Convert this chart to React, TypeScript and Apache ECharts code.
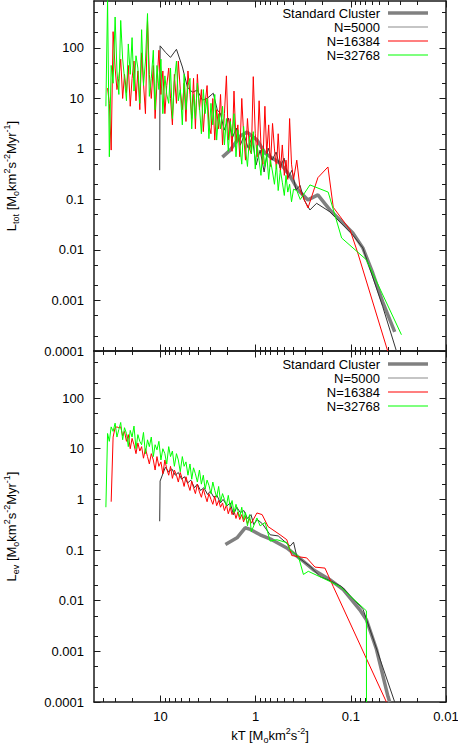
import React, { useEffect, useRef } from 'react';
import * as echarts from 'echarts';

// ---------- axis ranges and tick labels ----------
const kTRange = [0.01, 50];
const lumRange = [0.0001, 850];
const xTickLabels = ['10', '1', '0.1', '0.01'];
const yTickLabels = ['100', '10', '1', '0.1', '0.01', '0.001', '0.0001'];
const seriesNames = ['Standard Cluster', 'N=5000', 'N=16384', 'N=32768'];

// ---------- temperature bins (kT) of the noisy curves ----------
const kTBins = [
  37.5, 36, 34.5, 33, 31.5, 30, 28.7, 27.4, 26.2, 25,
  23.9, 22.8, 21.8, 20.8, 19.9, 19, 18.1, 17.3, 16.5, 15.8,
  15.1, 14.4, 13.7, 13.1, 12.5, 11.9, 11.4, 10.9, 10.4, 9.9,
  9.45, 9.0, 8.6, 8.2, 7.85, 7.5, 7.15, 6.8, 6.5, 6.2,
  5.9, 5.65, 5.4, 5.15, 4.9, 4.7, 4.5, 4.3, 4.1, 3.9,
  3.72, 3.55, 3.4, 3.24, 3.1, 2.95, 2.82, 2.69, 2.57, 2.45,
  2.34, 2.23, 2.13, 2.03, 1.94, 1.85, 1.77, 1.69, 1.61, 1.54,
  1.47, 1.4, 1.34, 1.28, 1.22, 1.16, 1.11, 1.06, 1.01, 0.965,
  0.92, 0.88, 0.84, 0.8, 0.765, 0.73, 0.7, 0.665, 0.635, 0.605,
  0.58, 0.55, 0.525, 0.5, 0.48, 0.46, 0.44, 0.42, 0.4,
];

// ---------- upper panel: L_tot ----------
const totGreen = [
  7, 900, 0.7, 45, 20, 410, 35, 12, 350, 60,
  25, 9, 120, 30, 160, 14, 70, 40, 8, 230,
  18, 55, 480, 11, 25, 90, 6, 45, 15, 60,
  5, 28, 12, 8, 40, 4, 22, 55, 9, 15,
  3, 30, 6, 18, 25, 2.5, 12, 4, 20, 7,
  2, 15, 5, 10, 1.6, 8, 3, 12, 1.5, 5,
  2.5, 7, 1.2, 4, 0.9, 3.5, 1.8, 5, 0.7, 2.4,
  1.2, 0.5, 2.8, 1, 0.45, 1.8, 0.8, 2.2, 0.4, 1.2,
  0.6, 0.3, 1.0, 0.45, 0.8, 0.25, 0.6, 0.35, 0.2, 0.5,
  0.15, 0.38, 0.22, 0.12, 0.3, 0.14, 0.2, 0.09, 0.16,
];
const totGreenTail = [
  [0.37, 0.15], [0.34, 0.1], [0.269, 0.194], [0.173, 0.14], [0.125, 0.0173],
  [0.0686, 0.0064], [0.0294, 0.00021],
];

const totRed = [
  null, 16, 8, 0.95, 210, 40, 15, 25, 60, 10,
  30, 13, 45, 7, 25, 55, 9, 35, 6, 80,
  20, 5, 350, 30, 10, 45, 4, 20, 90, 12,
  35, 5, 18, 40, 10, 3, 30, 8, 55, 15,
  6, 20, 3.5, 35, 12, 4, 25, 2.5, 30, 6,
  15, 2.2, 8, 18, 3, 2, 10, 1.5, 6, 2.5,
  12, 1.2, 5, 28, 1.5, 4, 0.9, 14, 1.4, 3,
  0.7, 10, 2, 0.6, 4, 1.0, 0.8, 27, 2, 0.7,
  9, 1.2, 0.5, 7, 0.8, 3, 0.45, 3.2, 1.0, 0.4,
  2, 0.35, 1.2, 0.3, 0.6, 0.25, 4, 0.5, 0.25,
];
const totRedTail = [
  [0.37, 0.6], [0.34, 0.15], [0.282, 0.068], [0.222, 0.27], [0.174, 0.44],
  [0.153, 0.07], [0.102, 0.025], [0.0845, 0.0087], [0.041, 0.0001],
];

const totBlack = [
  [10.2, 0.38], [10.1, 110], [8.87, 82], [7.85, 65], [6.8, 94], [5.89, 42],
  [5.21, 16.7], [4.62, 13.3], [4.1, 14.6], [3.63, 9.25], [3.22, 10.1], [2.79, 12.7],
  [2.53, 5.9], [2.35, 5.1], [2.14, 2.36], [1.94, 4.1], [1.76, 1.64], [1.6, 2.6],
  [1.45, 1.19], [1.32, 1.88], [1.2, 1.04], [1.09, 1.72], [0.99, 0.48], [0.898, 0.95],
  [0.815, 0.35], [0.74, 1.04], [0.672, 0.6], [0.61, 0.87], [0.554, 0.42], [0.503, 0.66],
  [0.457, 0.27], [0.415, 0.38], [0.377, 0.154], [0.342, 0.19], [0.31, 0.098], [0.269, 0.062],
  [0.229, 0.084], [0.166, 0.057], [0.0953, 0.0197], [0.0748, 0.011], [0.0463, 0.00076],
  [0.0332, 0.0001],
];

const totStandard = [
  [2.24, 0.69], [1.85, 0.95], [1.45, 1.8], [1.23, 2.16], [0.965, 1.5], [0.796, 0.83],
  [0.672, 0.66], [0.554, 0.526], [0.435, 0.291], [0.359, 0.154], [0.282, 0.098],
  [0.222, 0.123], [0.166, 0.062], [0.124, 0.036], [0.0953, 0.0218], [0.0748, 0.011],
  [0.0589, 0.0035], [0.0463, 0.00094], [0.0346, 0.00024],
];

// ---------- lower panel: L_ev ----------
const evGreen = [
  0.7, 20, 14, 27, 22, 32, 17, 24, 33, 15,
  26, 20, 11, 23, 17, 28, 10, 19, 14, 12,
  21, 8, 15, 11, 17, 7, 12, 9.5, 14, 6,
  10, 8, 5, 11, 7, 9, 4.5, 8, 6, 3.5,
  7, 4.5, 5.5, 3, 5, 2.5, 4.2, 3.2, 2.2, 3.8,
  2.0, 3, 1.6, 2.4, 1.9, 1.3, 2.2, 1.5, 1.1, 1.8,
  0.9, 1.3, 1.0, 0.75, 1.2, 0.7, 0.95, 0.55, 0.8, 0.6,
  0.45, 0.7, 0.4, 0.55, 0.3, 0.5, 0.23,
];
const evGreenTail = [
  [0.97, 0.43], [0.898, 0.3], [0.796, 0.35], [0.705, 0.15], [0.6, 0.16], [0.471, 0.14],
  [0.435, 0.1], [0.356, 0.075], [0.315, 0.033], [0.28, 0.038], [0.166, 0.024],
  [0.13, 0.019], [0.0686, 0.0063], [0.0685, 0.0001],
];

const evRed = [
  null, null, null, 0.9, 17, 26, 27, 26, 27, 18,
  22, 14, 19, 10, 16, 12, 8, 13, 9, 11,
  6.5, 10, 7, 5, 8, 6, 3.8, 7, 4.5, 5.5,
  3.2, 6, 4, 3, 4.5, 2.6, 3.8, 3, 2.2, 3.4,
  2.5, 1.8, 2.8, 2, 1.5, 2.3, 1.7, 1.3, 2, 1.4,
  1.1, 1.6, 1.2, 0.9, 1.3, 1.0, 0.8, 1.15, 0.75, 0.95,
  0.7, 0.85, 0.6, 0.78, 0.52, 0.7, 0.5, 0.6, 0.42, 0.56,
  0.4, 0.5, 0.36, 0.46, 0.33, 0.42, 0.34,
];
const evRedTail = [
  [0.97, 0.54], [0.855, 0.5], [0.74, 0.29], [0.554, 0.2], [0.471, 0.16], [0.418, 0.078],
  [0.342, 0.073], [0.291, 0.07], [0.238, 0.046], [0.187, 0.044], [0.153, 0.019],
  [0.0423, 0.0001],
];

const evBlack = [
  [10.2, 0.37], [10.1, 2.3], [8.9, 4.3], [8.2, 3.5], [7.6, 4.0], [7.0, 3.0], [6.5, 3.4],
  [6.0, 2.5], [5.6, 2.8], [5.2, 2.1], [4.8, 2.4], [4.4, 1.7], [4.1, 2.0], [3.8, 1.5],
  [3.5, 1.7], [3.2, 1.25], [3.0, 1.45], [2.75, 1.1], [2.55, 1.2], [2.35, 0.85], [2.2, 1.0],
  [2.0, 0.75], [1.85, 0.85], [1.71, 0.5], [1.58, 0.7], [1.45, 0.55], [1.33, 0.6],
  [1.22, 0.42], [1.12, 0.5], [1.05, 0.32], [0.96, 0.4], [0.85, 0.33], [0.705, 0.2],
  [0.58, 0.19], [0.435, 0.119], [0.4, 0.143], [0.37, 0.075], [0.269, 0.048], [0.211, 0.03],
  [0.159, 0.024], [0.125, 0.019], [0.0743, 0.0067], [0.0346, 0.0001],
];

const evStandard = [
  [2.08, 0.128], [1.57, 0.174], [1.29, 0.275], [1.14, 0.255], [0.898, 0.2], [0.676, 0.16],
  [0.471, 0.11], [0.342, 0.068], [0.248, 0.041], [0.166, 0.026], [0.12, 0.0165],
  [0.0805, 0.0066], [0.0686, 0.0042], [0.0538, 0.0011], [0.0407, 0.000128], [0.039, 0.0001],
];

// ---------- helpers ----------
const FONT = '"Liberation Sans", Arial, Helvetica, sans-serif';
const lg = Math.log10;

function binned(vals: (number | null)[]) {
  const out: number[][] = [];
  vals.forEach((v, i) => {
    if (v != null) out.push([lg(kTBins[i]), lg(v)]);
  });
  return out;
}
function paired(p: number[][]) {
  return p.map(([k, l]) => [lg(k), lg(l)]);
}

const xMin = lg(kTRange[0]);
const xMax = lg(kTRange[1]);
const yMin = lg(lumRange[0]);
const yMax = lg(lumRange[1]);
const xMajor = xTickLabels.map((s) => lg(Number(s)));
const yMajor = yTickLabels.map((s) => lg(Number(s)));
const xMinor: number[] = [];
for (let e = -2; e <= 1; e++) {
  for (let m = 2; m <= 9; m++) {
    const v = lg(m) + e;
    if (v < xMax - 1e-6) xMinor.push(v);
  }
}
const yMinor: number[] = [];
for (let e = -4; e <= 2; e++) {
  for (const m of [2, 5]) {
    const v = lg(m) + e;
    if (v < yMax - 1e-6) yMinor.push(v);
  }
}

function labelFor(ticks: number[], labels: string[]) {
  return (v: number) => {
    const i = ticks.findIndex((t) => Math.abs(t - v) < 1e-6);
    return i >= 0 ? labels[i] : '';
  };
}

const FRAME = '#1a1a1a';
const frameLine = { show: true, onZero: false, lineStyle: { color: FRAME, width: 1.5 } };
const noLine = { show: false, onZero: false };
const majorTick = (vals: number[]) => ({
  show: true, inside: true, length: 6.5, customValues: vals, lineStyle: { color: FRAME, width: 1 },
});
const minorTick = (vals: number[]) => ({
  show: true, inside: true, length: 4, customValues: vals, lineStyle: { color: FRAME, width: 1 },
});
const tickText = { fontSize: 13, fontFamily: FONT, color: '#000' };

const rich = {
  b: { fontSize: 13, fontFamily: FONT, color: '#000', lineHeight: 18, verticalAlign: 'middle' },
  sub: { fontSize: 9, fontFamily: FONT, color: '#000', lineHeight: 9, verticalAlign: 'bottom' },
  sup: { fontSize: 9, fontFamily: FONT, color: '#000', lineHeight: 9, verticalAlign: 'top' },
};
const kTName = '{b|kT [M}{sub|o}{b|km}{sup|2}{b|s}{sup|-2}{b|]}';
const unitName = '{b| [M}{sub|o}{b|km}{sup|2}{b|s}{sup|-2}{b|Myr}{sup|-1}{b|]}';
const totName = '{b|L}{sub|tot}' + unitName;
const evName = '{b|L}{sub|ev}' + unitName;

function makeXAxes(grid: number, withLabels: boolean) {
  const base = {
    type: 'value', gridIndex: grid, min: xMin, max: xMax, inverse: true,
    splitLine: { show: false },
  };
  const major: any = {
    ...base, position: 'bottom', axisLine: frameLine, axisTick: majorTick(xMajor),
    axisLabel: withLabels
      ? { show: true, customValues: xMajor, formatter: labelFor(xMajor, xTickLabels), margin: 8, ...tickText }
      : { show: false },
  };
  if (withLabels) {
    major.name = kTName;
    major.nameLocation = 'middle';
    major.nameGap = 24;
    major.nameTextStyle = { rich };
  }
  return [
    major,
    { ...base, position: 'bottom', axisLine: noLine, axisTick: minorTick(xMinor), axisLabel: { show: false } },
    { ...base, position: 'top', axisLine: frameLine, axisTick: majorTick(xMajor), axisLabel: { show: false } },
    { ...base, position: 'top', axisLine: noLine, axisTick: minorTick(xMinor), axisLabel: { show: false } },
  ];
}

function makeYAxes(grid: number, name: string) {
  const base = { type: 'value', gridIndex: grid, min: yMin, max: yMax, splitLine: { show: false } };
  return [
    {
      ...base, position: 'left', axisLine: frameLine, axisTick: majorTick(yMajor),
      axisLabel: { show: true, customValues: yMajor, formatter: labelFor(yMajor, yTickLabels), margin: 10, ...tickText },
      name, nameLocation: 'middle', nameGap: 74, nameRotate: 90, nameTextStyle: { rich },
    },
    { ...base, position: 'left', axisLine: noLine, axisTick: minorTick(yMinor), axisLabel: { show: false } },
    { ...base, position: 'right', axisLine: frameLine, axisTick: majorTick(yMajor), axisLabel: { show: false } },
    { ...base, position: 'right', axisLine: noLine, axisTick: minorTick(yMinor), axisLabel: { show: false } },
  ];
}

const COLORS = ['#808080', '#333333', '#ff0000', '#00ff00'];
const WIDTHS = [3.5, 1, 1, 1];
// legend samples: a horizontal bar inside a 40x14 box (the two moves fix the box)
const ICON_THICK = 'path://M0,0M40,14M0,5.25H40V8.75H0Z';
const ICON_THIN = 'path://M0,0M40,14M0,6.5H40V7.5H0Z';

function line(idx: number, data: number[][], axisIndex: number) {
  return {
    type: 'line', name: seriesNames[idx], data, xAxisIndex: axisIndex, yAxisIndex: axisIndex,
    symbol: 'none', showSymbol: false, clip: true, silent: true,
    lineStyle: { color: COLORS[idx], width: WIDTHS[idx] }, itemStyle: { color: COLORS[idx] },
    emphasis: { disabled: true },
  };
}

function makeLegend(top: number) {
  return {
    top, right: 30, padding: 0, orient: 'vertical', align: 'right', itemWidth: 40, itemHeight: 14, itemGap: 0,
    selectedMode: false,
    data: seriesNames.map((n, i) => ({
      name: n,
      icon: i === 0 ? ICON_THICK : ICON_THIN,
      itemStyle: { color: i === 1 ? '#8c8c8c' : COLORS[i], borderWidth: 0 },
    })),
    itemStyle: { borderWidth: 0 },
    textStyle: { fontSize: 13, fontFamily: FONT, color: '#000', padding: [0, 3, 0, 0] },
  };
}

export default function App() {
  const ref = useRef<HTMLDivElement>(null);
  useEffect(() => {
    if (!ref.current) return;
    const chart = echarts.init(ref.current, null, { renderer: 'svg', width: 458, height: 746 });
    chart.setOption({
      animation: false,
      backgroundColor: '#ffffff',
      grid: [
        { left: 94, right: 12, top: 1, height: 350, containLabel: false, outerBoundsMode: 'none' },
        { left: 94, right: 12, top: 351, height: 351, containLabel: false, outerBoundsMode: 'none' },
      ],
      legend: [makeLegend(6), makeLegend(357)],
      xAxis: [...makeXAxes(0, false), ...makeXAxes(1, true)],
      yAxis: [...makeYAxes(0, totName), ...makeYAxes(1, evName)],
      series: [
        line(0, paired(totStandard), 0),
        line(1, paired(totBlack), 0),
        line(2, [...binned(totRed), ...paired(totRedTail)], 0),
        line(3, [...binned(totGreen), ...paired(totGreenTail)], 0),
        line(0, paired(evStandard), 4),
        line(1, paired(evBlack), 4),
        line(2, [...binned(evRed), ...paired(evRedTail)], 4),
        line(3, [...binned(evGreen), ...paired(evGreenTail)], 4),
      ],
    });
    return () => chart.dispose();
  }, []);
  return <div ref={ref} style={{ position: 'absolute', left: 0, top: 0, width: 458, height: 746 }} />;
}
